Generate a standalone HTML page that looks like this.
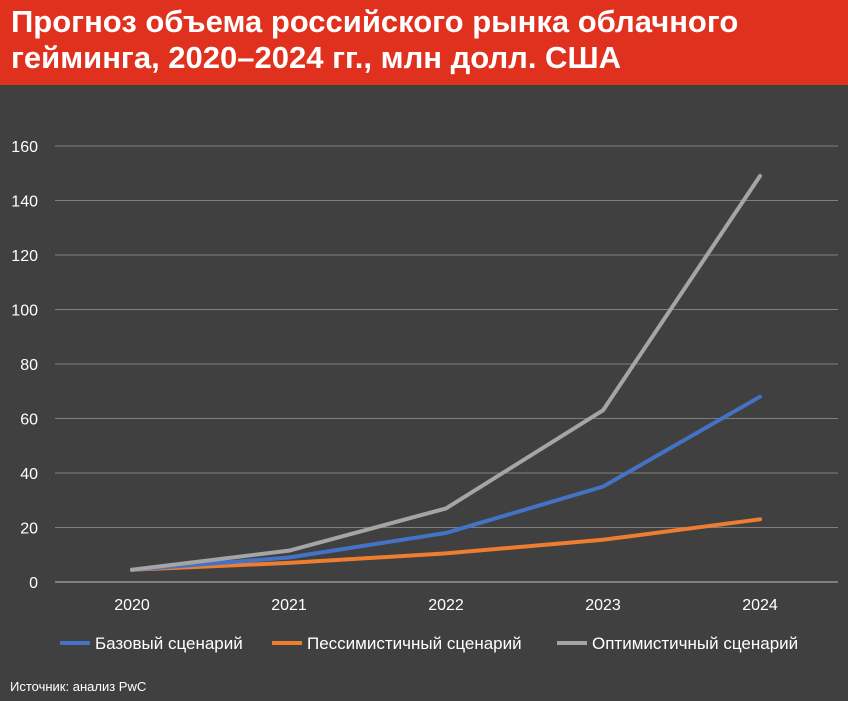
<!DOCTYPE html>
<html><head><meta charset="utf-8"><style>
body{margin:0;width:848px;height:701px;background:#404041;font-family:"Liberation Sans",sans-serif;overflow:hidden;position:relative}
#hdr{position:absolute;left:0;top:0;width:848px;height:85px;background:#e0301e;color:#fff;font-weight:bold;font-size:31px;line-height:36px;padding:4px 0 0 11px;box-sizing:border-box;white-space:nowrap}
#src{position:absolute;left:10px;top:679px;color:#fff;font-size:13px}
svg{position:absolute;left:0;top:0}
</style></head><body>
<div id="hdr">Прогноз объема российского рынка облачного<br>гейминга, 2020–2024 гг., млн долл. США</div>
<svg id="c" width="848" height="701"></svg>
<div id="src">Источник: анализ PwC</div>
<script>
const categories=["2020","2021","2022","2023","2024"];
const yTicks=[0,20,40,60,80,100,120,140,160];
const baseValues=[4.5,9,18,35,68];
const pessValues=[4.5,7,10.5,15.5,23];
const optValues=[4.5,11.5,27,63,149];
const seriesNames=["Базовый сценарий","Пессимистичный сценарий","Оптимистичный сценарий"];
const colors=["#4472c4","#ed7d31","#a5a5a5"];
const svg=document.getElementById('c');const NS="http://www.w3.org/2000/svg";
const x=i=>132+i*157;const y=v=>582-v*(436/160);
function el(t,a){const e=document.createElementNS(NS,t);for(const k in a)e.setAttribute(k,a[k]);svg.appendChild(e);return e;}
yTicks.forEach(t=>{
 const l=el('line',{x1:55,x2:838,y1:y(t),y2:y(t),stroke:t===0?'#bfbfbf':'#7f7f7f','stroke-width':1});
 
 
 const tx=el('text',{x:38,y:y(t)+6,'text-anchor':'end',fill:'#fff','font-size':16,'font-family':'Liberation Sans'});tx.textContent=t;
 
 
});
categories.forEach((c,i)=>{
 const tx=el('text',{x:x(i),y:610,'text-anchor':'middle',fill:'#fff','font-size':16,'font-family':'Liberation Sans'});tx.textContent=c;
 
 
});
[[pessValues,1],[baseValues,0],[optValues,2]].forEach(([vals,k])=>{
 const p=el('polyline',{points:vals.map((v,i)=>x(i)+','+y(v)).join(' '),fill:'none',stroke:colors[k],'stroke-width':4,'stroke-linejoin':'round','stroke-linecap':'round'});
 
 
});
const lx=[60,272,557];
seriesNames.forEach((n,k)=>{
 const l=el('line',{x1:lx[k],x2:lx[k]+30,y1:643,y2:643,stroke:colors[k],'stroke-width':4});
 
 
 const t=el('text',{x:lx[k]+35,y:649,fill:'#fff','font-size':17,'font-family':'Liberation Sans'});t.textContent=n;
 
 
});
</script>
</body></html>
